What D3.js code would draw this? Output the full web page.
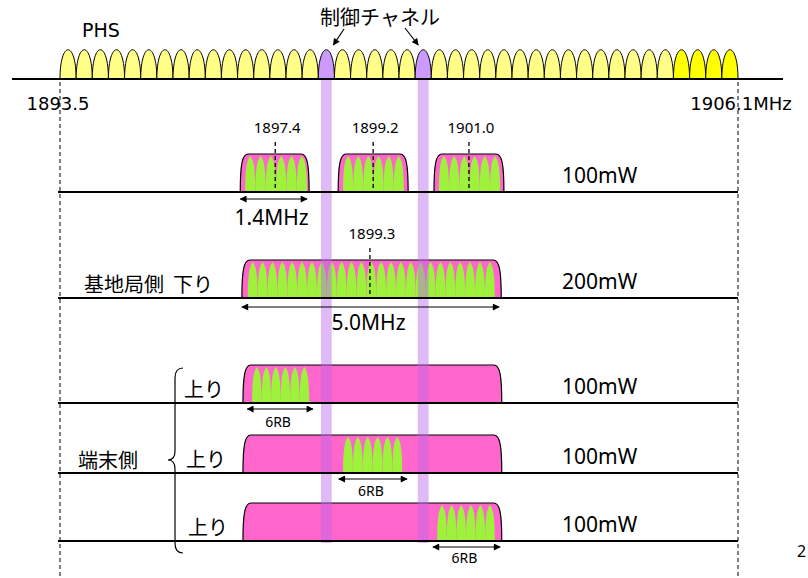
<!DOCTYPE html>
<html>
<head>
<meta charset="utf-8">
<script src="https://cdn.jsdelivr.net/npm/d3@7"></script>
<style>
body{margin:0;background:#fff}
text{font-family:"Noto Sans","Noto Sans CJK JP",sans-serif;fill:#000}
</style>
</head>
<body>
<svg></svg>
<script>
// bande PHS (MHz)
var bandLimits = [1893.5, 1906.1]
var bandLabels = ["1893.5", "1906.1MHz"]
var phsChannels = [1893.65, 1893.95, 1894.25, 1894.55, 1894.85, 1895.15, 1895.45, 1895.75,
  1896.05, 1896.35, 1896.65, 1896.95, 1897.25, 1897.55, 1897.85, 1898.15, 1898.45, 1898.75,
  1899.05, 1899.35, 1899.65, 1899.95, 1900.25, 1900.55, 1900.85, 1901.15, 1901.45, 1901.75,
  1902.05, 1902.35, 1902.65, 1902.95, 1903.25, 1903.55, 1903.85, 1904.15, 1904.45, 1904.75,
  1905.05, 1905.35, 1905.65, 1905.95]
var controlChannels = [1898.45, 1900.25]
var brightChannels = [1905.05, 1905.35, 1905.65, 1905.95]

// lignes LTE
var rowIds = ["lte14", "lte5", "ul1", "ul2", "ul3"]
var rowPower = ["100mW", "200mW", "100mW", "100mW", "100mW"]
var rowLabels = ["", "基地局側\u00a0\u00a0下り", "上り", "上り", "上り"]

// blocs : ligne, bords (MHz), zone RB verte (MHz), nombre de RB
var blockRow = ["lte14", "lte14", "lte14", "lte5", "ul1", "ul2", "ul3"]
var blockLo = [1896.85, 1898.67, 1900.45, 1896.88, 1896.90, 1896.90, 1896.90]
var blockHi = [1898.13, 1899.97, 1901.75, 1901.70, 1901.71, 1901.71, 1901.71]
var greenLo = [1896.94, 1898.76, 1900.54, 1896.99, 1897.07, 1898.76, 1900.51]
var greenHi = [1898.09, 1899.89, 1901.68, 1901.58, 1898.13, 1899.86, 1901.58]
var rbCount = [6, 6, 6, 25, 6, 6, 6]

// fréquences centrales
var markRow = ["lte14", "lte14", "lte14", "lte5"]
var markFreq = [1897.50, 1899.32, 1901.10, 1899.26]
var markText = ["1897.4", "1899.2", "1901.0", "1899.3"]

// largeurs (flèches)
var spanRow = ["lte14", "lte5", "ul1", "ul2", "ul3"]
var spanLo = [1896.85, 1896.88, 1896.98, 1898.68, 1900.43]
var spanHi = [1898.09, 1901.66, 1898.20, 1899.95, 1901.68]
var spanText = ["1.4MHz", "5.0MHz", "6RB", "6RB", "6RB"]

var canevas = d3.select("svg").attr("width", 808).attr("height", 578)

var x = d3.scaleLinear().domain(bandLimits).range([60, 738])
var rowBase = d3.scaleOrdinal().domain(rowIds).range([192, 298, 403, 473, 541])
var phsBase = 79
var blockH = 38

var defs = canevas.append("defs")
defs.append("marker")
  .attr("id", "tete")
  .attr("viewBox", "0 0 10 10")
  .attr("refX", 9).attr("refY", 5)
  .attr("markerWidth", 8).attr("markerHeight", 7)
  .attr("markerUnits", "userSpaceOnUse")
  .attr("orient", "auto-start-reverse")
  .append("path").attr("d", "M0,0 L10,5 L0,10 Z").attr("fill", "black")

function near(a, b){ return Math.abs(a - b) < 0.01 }

// canaux PHS
canevas.selectAll("path.phs")
  .data(phsChannels)
  .enter()
  .append("path")
  .attr("class", "phs")
  .attr("d", function(f){
    var x0 = x(f - 0.15), x1 = x(f + 0.15)
    return "M" + x0 + "," + phsBase + " C" + x0 + "," + (phsBase - 39) + " " + x1 + "," + (phsBase - 39) + " " + x1 + "," + phsBase
  })
  .attr("fill", function(f){
    if (controlChannels.some(function(c){ return near(c, f) })) return "#cc99ff"
    if (brightChannels.some(function(c){ return near(c, f) })) return "#ffff00"
    return "#ffff88"
  })
  .attr("stroke", "black")
  .attr("stroke-width", 1)

// axe du haut
canevas.append("line")
  .attr("x1", 12).attr("x2", 783)
  .attr("y1", phsBase).attr("y2", phsBase)
  .attr("stroke", "black").attr("stroke-width", 2)

// pointillés des bords de bande
canevas.selectAll("line.bord")
  .data(bandLimits)
  .enter()
  .append("line")
  .attr("class", "bord")
  .attr("x1", function(d){ return x(d) }).attr("x2", function(d){ return x(d) })
  .attr("y1", phsBase + 3).attr("y2", 578)
  .attr("stroke", "black").attr("stroke-width", 1)
  .attr("stroke-dasharray", "4,3")

canevas.append("text").text(bandLabels[0])
  .attr("x", x(bandLimits[0]) - 2).attr("y", 110)
  .attr("text-anchor", "middle")
  .style("font-family", "DejaVu Sans").style("font-size", "18px")
canevas.append("text").text(bandLabels[1])
  .attr("x", x(bandLimits[1]) + 3).attr("y", 110)
  .attr("text-anchor", "middle")
  .style("font-family", "DejaVu Sans").style("font-size", "18px")

canevas.append("text").text("PHS")
  .attr("x", 82).attr("y", 37)
  .style("font-family", "DejaVu Sans").style("font-size", "19px")

canevas.append("text").text("制御チャネル")
  .attr("x", 380).attr("y", 25)
  .attr("text-anchor", "middle")
  .style("font-family", "Noto Sans CJK JP").style("font-size", "20px")

// flèches vers les canaux de contrôle
canevas.append("line")
  .attr("x1", 344).attr("y1", 29).attr("x2", x(controlChannels[0]) + 7).attr("y2", 45)
  .attr("stroke", "black").attr("stroke-width", 1.2).attr("marker-end", "url(#tete)")
canevas.append("line")
  .attr("x1", 405).attr("y1", 28).attr("x2", x(controlChannels[1]) - 5).attr("y2", 45)
  .attr("stroke", "black").attr("stroke-width", 1.2).attr("marker-end", "url(#tete)")

// blocs LTE
function blockPath(x0, x1, b, t){
  return "M" + x0 + "," + b + " C" + x0 + "," + (t + 10) + " " + (x0 + 2) + "," + t + " " + (x0 + 8) + "," + t +
    " L" + (x1 - 8) + "," + t + " C" + (x1 - 2) + "," + t + " " + x1 + "," + (t + 10) + " " + x1 + "," + b + " Z"
}

function rbPath(x0, x1, b, t){
  var xm = (x0 + x1) / 2, w = x1 - x0, h = b - t
  return "M" + x0 + "," + b + " C" + x0 + "," + (b - 0.8 * h) + " " + (xm - 0.22 * w) + "," + (t + 0.08 * h) + " " + xm + "," + t +
    " C" + (xm + 0.22 * w) + "," + (t + 0.08 * h) + " " + x1 + "," + (b - 0.8 * h) + " " + x1 + "," + b + " Z"
}

blockRow.forEach(function(r, i){
  var b = rowBase(r), t = b - blockH
  canevas.append("path")
    .attr("d", blockPath(x(blockLo[i]), x(blockHi[i]), b, t))
    .attr("fill", "#ff66cc")
    .attr("stroke", "black").attr("stroke-width", 1.2)
  var g0 = x(greenLo[i]), w = (x(greenHi[i]) - g0) / rbCount[i]
  for (let k = 0; k < rbCount[i]; k++){
    canevas.append("path")
      .attr("d", rbPath(g0 + k * w, g0 + (k + 1) * w, b, t + 2))
      .attr("fill", "#9ef23c")
  }
})

// bandes des canaux de contrôle
canevas.selectAll("rect.ctrl")
  .data(controlChannels)
  .enter()
  .append("rect")
  .attr("class", "ctrl")
  .attr("x", function(f){ return x(f - 0.1) })
  .attr("width", function(f){ return x(f + 0.1) - x(f - 0.1) })
  .attr("y", phsBase + 1).attr("height", 542 - phsBase)
  .attr("fill", "#bb66ee").attr("opacity", 0.45)

// lignes de base
canevas.selectAll("line.base")
  .data(rowIds)
  .enter()
  .append("line")
  .attr("class", "base")
  .attr("x1", 58).attr("x2", x(bandLimits[1]))
  .attr("y1", function(r){ return rowBase(r) }).attr("y2", function(r){ return rowBase(r) })
  .attr("stroke", "black").attr("stroke-width", 2)

// fréquences centrales
markRow.forEach(function(r, i){
  var b = rowBase(r)
  canevas.append("line")
    .attr("x1", x(markFreq[i])).attr("x2", x(markFreq[i]))
    .attr("y1", b - 50).attr("y2", b)
    .attr("stroke", "black").attr("stroke-width", 1.3)
    .attr("stroke-dasharray", "4,3")
  canevas.append("text").text(markText[i])
    .attr("x", x(markFreq[i]) + 2).attr("y", b - 59)
    .attr("text-anchor", "middle")
    .style("font-size", "15px")
})

// largeurs
var spanDy = [7, 9, 6, 6, 6]
var textDy = [33, 32, 24, 23, 22]
var textSize = ["21px", "21px", "14px", "14px", "14px"]
spanRow.forEach(function(r, i){
  var b = rowBase(r)
  canevas.append("line")
    .attr("x1", x(spanLo[i])).attr("x2", x(spanHi[i]))
    .attr("y1", b + spanDy[i]).attr("y2", b + spanDy[i])
    .attr("stroke", "black").attr("stroke-width", 1.2)
    .attr("marker-start", "url(#tete)").attr("marker-end", "url(#tete)")
  canevas.append("text").text(spanText[i])
    .attr("x", (x(spanLo[i]) + x(spanHi[i])) / 2 - 2).attr("y", b + textDy[i])
    .attr("text-anchor", "middle")
    .style("font-size", textSize[i])
})

// puissances
canevas.selectAll("text.power")
  .data(rowIds)
  .enter()
  .append("text")
  .attr("class", "power")
  .text(function(r, i){ return rowPower[i] })
  .attr("x", 562)
  .attr("y", function(r){ return rowBase(r) - 9 })
  .style("font-size", "21px")

// libellés à gauche
var labelEnd = [0, 213, 224, 226, 228]
canevas.selectAll("text.side")
  .data(rowIds)
  .enter()
  .append("text")
  .attr("class", "side")
  .text(function(r, i){ return rowLabels[i] })
  .attr("x", function(r, i){ return labelEnd[i] })
  .attr("y", function(r){ return rowBase(r) - 6 })
  .attr("text-anchor", "end")
  .style("font-family", "Noto Sans CJK JP")
  .style("font-size", "20px")

canevas.append("text").text("端末側")
  .attr("x", 78).attr("y", 468)
  .style("font-family", "Noto Sans CJK JP").style("font-size", "20px")

// accolade
canevas.append("path")
  .attr("d", "M183,368 Q175,368 175,378 L175,451 Q175,460 168,460 Q175,460 175,469 L175,543 Q175,553 183,553")
  .attr("fill", "none").attr("stroke", "black").attr("stroke-width", 1.2)

canevas.append("text").text("2")
  .attr("x", 797).attr("y", 557)
  .style("font-size", "16px")
</script>
</body>
</html>
